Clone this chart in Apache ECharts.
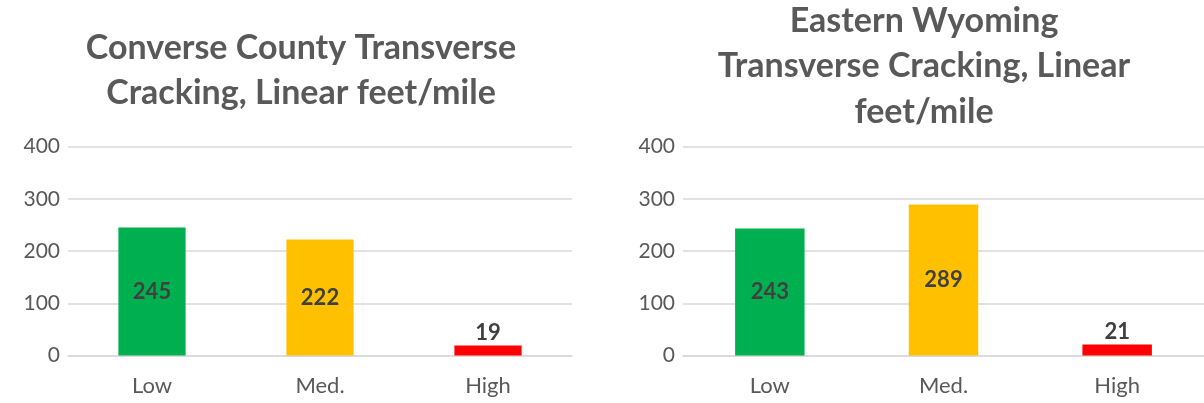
<!DOCTYPE html>
<html>
<head>
<meta charset="utf-8">
<script src="https://cdn.jsdelivr.net/npm/echarts@6/dist/echarts.min.js"></script>
<style>
html,body{margin:0;padding:0;background:#fff;}
#c{width:1204px;height:403px;}
</style>
</head>
<body>
<div id="c"></div>
<script>
const categories = ['Low', 'Med.', 'High'];
const converseValues = [245, 222, 19];
const easternValues = [243, 289, 21];
const barColors = ['#00B050', '#FFC000', '#FF0000'];
const yTicks = [0, 100, 200, 300, 400];
const titleLeft = 'Converse County Transverse\nCracking, Linear feet/mile';
const titleRight = 'Eastern Wyoming\nTransverse Cracking, Linear\nfeet/mile';

const FONT = 'Lato';
const GREY = '#595959';

function makeData(vals) {
  return vals.map((v, i) => ({
    value: v,
    itemStyle: { color: barColors[i] },
    label: { position: v < 50 ? 'top' : 'inside' }
  }));
}

const chart = echarts.init(document.getElementById('c'), null, { renderer: 'canvas' });

const xAxisBase = {
  type: 'category',
  data: categories,
  axisLine: { lineStyle: { color: '#D9D9D9', width: 1.5 } },
  axisTick: { show: false },
  axisLabel: { color: GREY, fontFamily: FONT, fontSize: 22, margin: 19 }
};
const yAxisBase = {
  type: 'value',
  min: yTicks[0],
  max: yTicks[yTicks.length - 1],
  interval: 100,
  axisLine: { show: false },
  axisTick: { show: false },
  axisLabel: { color: GREY, fontFamily: FONT, fontSize: 21, margin: 8 },
  splitLine: { lineStyle: { color: '#D9D9D9', width: 1.5 } }
};
const labelBase = {
  show: true,
  color: '#404040',
  fontFamily: FONT,
  fontWeight: 'bold',
  fontSize: 22,
  distance: 2
};
const titleStyle = {
  color: GREY,
  fontFamily: FONT,
  fontWeight: 'bold',
  fontSize: 34,
  lineHeight: 45.5
};

chart.setOption({
  animation: false,
  title: [
    { text: titleLeft, left: 296, top: 20, textAlign: 'center', textStyle: titleStyle },
    { text: titleRight, left: 919, top: -7, textAlign: 'center', textStyle: titleStyle }
  ],
  grid: [
    { left: 68, right: 632, top: 146.5, bottom: 47.5 },
    { left: 683, right: 0, top: 146.5, bottom: 47.5 }
  ],
  xAxis: [
    Object.assign({ gridIndex: 0 }, xAxisBase),
    Object.assign({ gridIndex: 1 }, xAxisBase)
  ],
  yAxis: [
    Object.assign({ gridIndex: 0 }, yAxisBase),
    Object.assign({ gridIndex: 1 }, yAxisBase)
  ],
  series: [
    { type: 'bar', xAxisIndex: 0, yAxisIndex: 0, barWidth: '40%', data: makeData(converseValues), label: labelBase },
    { type: 'bar', xAxisIndex: 1, yAxisIndex: 1, barWidth: '40%', data: makeData(easternValues), label: labelBase }
  ]
});
</script>
</body>
</html>
